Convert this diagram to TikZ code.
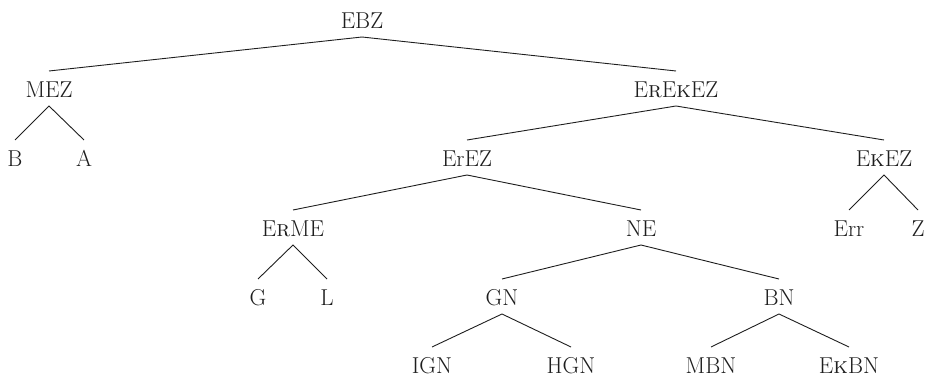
\documentclass[tikz,border=0pt]{standalone}
\definecolor{ink}{HTML}{1E1E1E}
\begin{document}
\begin{tikzpicture}[x=1pt,y=-1pt,
  tn/.style={inner sep=0pt, outer sep=0pt, text height=27pt, text depth=8pt, anchor=base,
             font=\fontsize{23}{23}\selectfont, text=ink},
  br/.style={draw=ink, line width=0.9pt}]
\useasboundingbox (0,0) rectangle (935,379);
\node[tn] (ebz) at (362,29) {EBZ};
\node[tn] (mez) at (49,98) {MEZ};
\node[tn] (erekez) at (676,98) {E\textsc{r}E\textsc{k}EZ};
\node[tn] (b) at (15,167) {B};
\node[tn] (a) at (84,167) {A};
\node[tn] (erez) at (467,167) {ErEZ};
\node[tn] (ekez) at (884,167) {E\textsc{k}EZ};
\node[tn] (erme) at (293,237) {E\textsc{r}ME};
\node[tn] (ne) at (641,237) {NE};
\node[tn] (err) at (849,237) {Err};
\node[tn] (z) at (918,237) {Z};
\node[tn] (g) at (258,306) {G};
\node[tn] (l) at (327,306) {L};
\node[tn] (gn) at (502,306) {GN};
\node[tn] (bn) at (779,306) {BN};
\node[tn] (ign) at (432,374) {IGN};
\node[tn] (hgn) at (571,374) {HGN};
\node[tn] (mbn) at (711,374) {MBN};
\node[tn] (ekbn) at (849,374) {E\textsc{k}BN};
\draw[br] (mez.north) -- (ebz.south) -- (erekez.north);
\draw[br] (b.north) -- (mez.south) -- (a.north);
\draw[br] (erez.north) -- (erekez.south) -- (ekez.north);
\draw[br] (erme.north) -- (erez.south) -- (ne.north);
\draw[br] (err.north) -- (ekez.south) -- (z.north);
\draw[br] (g.north) -- (erme.south) -- (l.north);
\draw[br] (gn.north) -- (ne.south) -- (bn.north);
\draw[br] (ign.north) -- (gn.south) -- (hgn.north);
\draw[br] (mbn.north) -- (bn.south) -- (ekbn.north);
\end{tikzpicture}
\end{document}
